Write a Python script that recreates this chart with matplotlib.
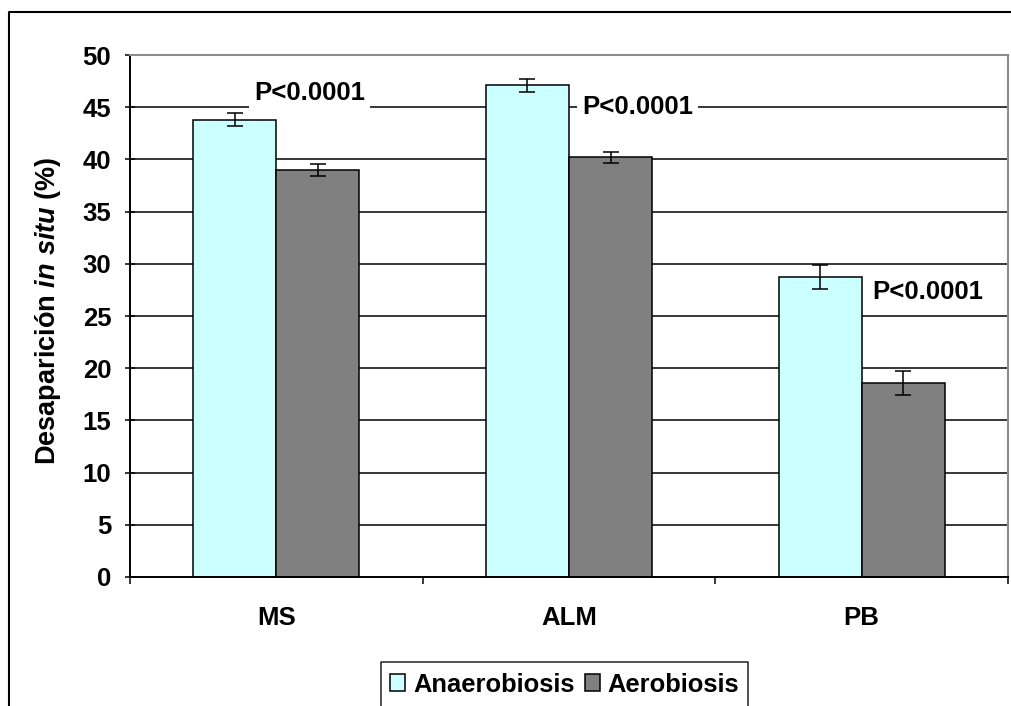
import numpy as np
import matplotlib
matplotlib.use("Agg")
import matplotlib.pyplot as plt
from matplotlib.patches import Patch
from matplotlib.lines import Line2D

plt.rcParams["font.family"] = ["Liberation Sans", "DejaVu Sans"]
plt.rcParams["mathtext.fontset"] = "custom"
plt.rcParams["mathtext.rm"] = "Liberation Sans:bold"
plt.rcParams["mathtext.it"] = "Liberation Sans:italic:bold"
plt.rcParams["mathtext.bf"] = "Liberation Sans:bold"

# Data
categories = ["MS", "ALM", "PB"]
anaerobiosis = [43.8, 47.1, 28.7]
aerobiosis = [39.0, 40.2, 18.6]
err_anaerobiosis = [0.6, 0.6, 1.15]
err_aerobiosis = [0.6, 0.5, 1.15]
p_labels = ["P<0.0001", "P<0.0001", "P<0.0001"]
series_names = ["Anaerobiosis", "Aerobiosis"]
yticks = [0, 5, 10, 15, 20, 25, 30, 35, 40, 45, 50]

W, H = 1012, 706
fig = plt.figure(figsize=(W / 100, H / 100), dpi=100)
ax = fig.add_axes([130 / W, 1 - 577 / H, 878 / W, 522 / H])

c_anaer = "#CCFFFF"
c_aer = "#808080"
x = np.arange(len(categories))
bw = 0.284
fs = 18.5

ax.set_axisbelow(True)
ax.bar(x - bw / 2, anaerobiosis, bw, color=c_anaer, edgecolor="black", linewidth=1.1, zorder=2)
ax.bar(x + bw / 2, aerobiosis, bw, color=c_aer, edgecolor="black", linewidth=1.1, zorder=2)
ax.errorbar(x - bw / 2, anaerobiosis, yerr=err_anaerobiosis, fmt="none", ecolor="black",
            elinewidth=1.1, capsize=5.5, capthick=1.1, zorder=3)
ax.errorbar(x + bw / 2, aerobiosis, yerr=err_aerobiosis, fmt="none", ecolor="black",
            elinewidth=1.1, capsize=5.5, capthick=1.1, zorder=3)

ax.set_xlim(-0.5, len(categories) - 0.5)
ax.set_ylim(0, 50)
ax.set_yticks(yticks)
ax.set_yticklabels([str(t) for t in yticks], fontsize=fs, fontweight="bold")
for t in yticks[1:-1]:
    ax.axhline(t, color="black", linewidth=1.1, zorder=1)

ax.set_xticks(x)
ax.set_xticklabels(categories, fontsize=fs, fontweight="bold")
ax.set_xticks(np.arange(-0.5, len(categories)), minor=True)
ax.tick_params(axis="x", which="major", length=0, pad=21)
ax.tick_params(axis="x", which="minor", length=5, width=1.1, direction="out")
ax.tick_params(axis="y", length=7, width=1.1, direction="inout", pad=10)

for side in ("left", "bottom"):
    ax.spines[side].set_color("black")
    ax.spines[side].set_linewidth(1.4)
for side in ("top", "right"):
    ax.spines[side].set_color("#8c8c8c")
    ax.spines[side].set_linewidth(1.5)

ax.set_ylabel("Desaparición $\\mathit{in\\ situ}$ (%)", fontsize=19.5, fontweight="bold")
ax.yaxis.set_label_coords(-0.076, 0.51)

# Significance labels on white boxes
p_pos = [(0.113, 46.4), (1.234, 45.0), (2.226, 27.3)]
for (px, py), lab in zip(p_pos, p_labels):
    ax.text(px, py, lab, ha="center", va="center", fontsize=fs, fontweight="bold",
            zorder=4, bbox=dict(facecolor="white", edgecolor="none", pad=3.5))

# Legend
handles = [Patch(facecolor=c_anaer, edgecolor="black", linewidth=1.1),
           Patch(facecolor=c_aer, edgecolor="black", linewidth=1.1)]
fig.legend(handles, series_names, loc="center left", bbox_to_anchor=(390 / W, 1 - 684.5 / H),
           frameon=False, ncol=2, prop=dict(size=18.4, weight="bold"),
           handlelength=0.6, handleheight=0.6, handletextpad=0.3, columnspacing=0.4,
           borderpad=0, borderaxespad=0)

def fig_line(xs, ys, **kw):
    fig.add_artist(Line2D([v / W for v in xs], [1 - v / H for v in ys],
                          transform=fig.transFigure, **kw))

# Legend frame
fig_line([381, 381, 748, 748], [720, 662, 662, 720], color="#222222", linewidth=1.1)
# Outer chart border
fig_line([9.5, 9.5, 1020], [720, 12, 12], color="black", linewidth=1.5)

fig.savefig("out.png", dpi=100)
